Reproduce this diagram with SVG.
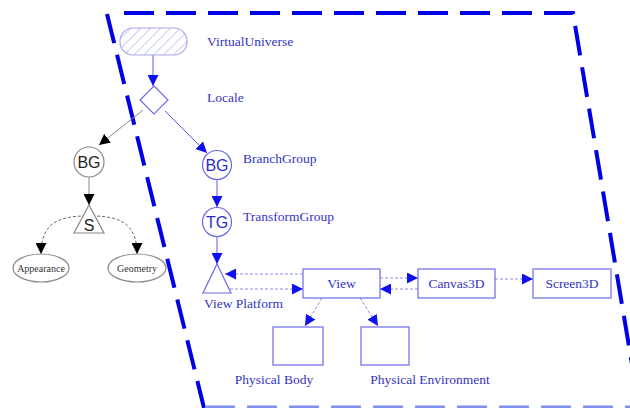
<svg xmlns="http://www.w3.org/2000/svg" width="630" height="408" viewBox="0 0 630 408">
<defs>
<pattern id="hatch" patternUnits="userSpaceOnUse" width="7" height="7" patternTransform="rotate(45)">
<line x1="0" y1="0" x2="0" y2="7" stroke="#a8a8f0" stroke-width="1.2"/>
</pattern>
<marker id="ab" viewBox="0 0 10 10" refX="10" refY="5" markerWidth="11" markerHeight="11" markerUnits="userSpaceOnUse" orient="auto"><path d="M0,0 L10,5 L0,10 z" fill="#1010ee"/></marker>
<marker id="ak" viewBox="0 0 10 10" refX="10" refY="5" markerWidth="11" markerHeight="11" markerUnits="userSpaceOnUse" orient="auto"><path d="M0,0 L10,5 L0,10 z" fill="#000"/></marker>
</defs>
<style>
.lbl{font-family:"Liberation Serif",serif;font-size:13.5px;fill:#3434c0}
.blue{fill:#fff;stroke:#6a6ae8;stroke-width:1.2}
.gray{fill:#fff;stroke:#888;stroke-width:1.2}
.sans{font-family:"Liberation Sans",sans-serif;font-size:16px;text-anchor:middle}
.small{font-family:"Liberation Serif",serif;font-size:10px;fill:#333;text-anchor:middle}
.bline{stroke:#5a5aee;stroke-width:1;fill:none}
.dline{stroke:#8a8af0;stroke-width:1;fill:none;stroke-dasharray:3,2}
.kdash{stroke:#444;stroke-width:0.8;fill:none;stroke-dasharray:3,2}
.kline{stroke:#888;stroke-width:1;fill:none}
.border{stroke:#0000e6;stroke-width:4;fill:none;stroke-dasharray:30,12}
</style>
<rect width="630" height="408" fill="#fff"/>
<g id="border">
<path class="border" d="M107,14 L204,408"/>
<path class="border" d="M124,13 L573,13 L638,400"/>
<path d="M205,407 L630,407" stroke="#8090f0" stroke-width="3" stroke-dasharray="30,12" fill="none"/>
</g>
<g id="connectors">
<path class="bline" d="M153,55 L153,86" marker-end="url(#ab)"/>
<path class="kline" d="M143,110 L99,145" marker-end="url(#ak)"/>
<path class="bline" d="M165,111 L207,153" marker-end="url(#ab)"/>
<path class="kline" d="M89,177 L89,205" marker-end="url(#ak)"/>
<path class="bline" d="M217,179 L217,207" marker-end="url(#ab)"/>
<path class="bline" d="M217,236 L217,264" marker-end="url(#ab)"/>
<path class="kdash" d="M86,216 C55,216 41,226 41,254" marker-end="url(#ak)"/>
<path class="kdash" d="M92,216 C123,216 137,226 137,254" marker-end="url(#ak)"/>
<path class="dline" d="M303,274 L225,274" marker-end="url(#ab)"/>
<path class="dline" d="M230,289 L303,289" marker-end="url(#ab)"/>
<path class="dline" d="M380,278 L418,278" marker-end="url(#ab)"/>
<path class="dline" d="M418,289 L380,289" marker-end="url(#ab)"/>
<path class="dline" d="M495,279 L533,279" marker-end="url(#ab)"/>
<path class="dline" d="M322,298 L305,326" marker-end="url(#ab)"/>
<path class="dline" d="M360,298 L378,326" marker-end="url(#ab)"/>
</g>
<g id="VirtualUniverse">
<rect x="120" y="28" width="67" height="27" rx="13" fill="url(#hatch)" stroke="#a8a8f0" stroke-width="1.2"/>
<text class="lbl" x="207" y="46">VirtualUniverse</text>
</g>
<g id="Locale">
<path class="blue" d="M154,86 L168,100 L154,114 L140,100 z"/>
<text class="lbl" x="207" y="102">Locale</text>
</g>
<g id="BGleft">
<circle class="gray" cx="89" cy="162" r="15"/>
<text class="sans" x="89" y="168" fill="#222">BG</text>
</g>
<g id="Shape">
<path class="gray" d="M89,205 L104,233 L74,233 z"/>
<text class="sans" x="89" y="231" fill="#222">S</text>
</g>
<g id="Appearance">
<ellipse class="gray" cx="41" cy="268" rx="28" ry="14"/>
<text class="small" x="41" y="271.5">Appearance</text>
</g>
<g id="Geometry">
<ellipse class="gray" cx="137" cy="268" rx="29" ry="14"/>
<text class="small" x="137" y="271.5">Geometry</text>
</g>
<g id="BranchGroup">
<circle class="blue" cx="217" cy="165" r="14.5"/>
<text class="sans" x="217" y="171" fill="#2a2ad0">BG</text>
<text class="lbl" x="243" y="163">BranchGroup</text>
</g>
<g id="TransformGroup">
<circle class="blue" cx="217" cy="222" r="14.5"/>
<text class="sans" x="217" y="228" fill="#2a2ad0">TG</text>
<text class="lbl" x="243" y="221">TransformGroup</text>
</g>
<g id="ViewPlatform">
<path class="blue" d="M217,264 L231,293 L203,293 z"/>
<text class="lbl" x="204" y="308">View Platform</text>
</g>
<g id="View">
<rect class="blue" x="303" y="269" width="77" height="29"/>
<text class="lbl" x="341.5" y="288" text-anchor="middle">View</text>
</g>
<g id="Canvas3D">
<rect class="blue" x="418" y="269" width="77" height="29"/>
<text class="lbl" x="456.5" y="288" text-anchor="middle">Canvas3D</text>
</g>
<g id="Screen3D">
<rect class="blue" x="533" y="269" width="78" height="29"/>
<text class="lbl" x="572" y="288" text-anchor="middle">Screen3D</text>
</g>
<g id="PhysicalBody">
<rect class="blue" x="273" y="327" width="50" height="38"/>
<text class="lbl" x="274" y="384" text-anchor="middle">Physical Body</text>
</g>
<g id="PhysicalEnvironment">
<rect class="blue" x="361" y="327" width="48" height="38"/>
<text class="lbl" x="430" y="384" text-anchor="middle">Physical Environment</text>
</g>
</svg>
